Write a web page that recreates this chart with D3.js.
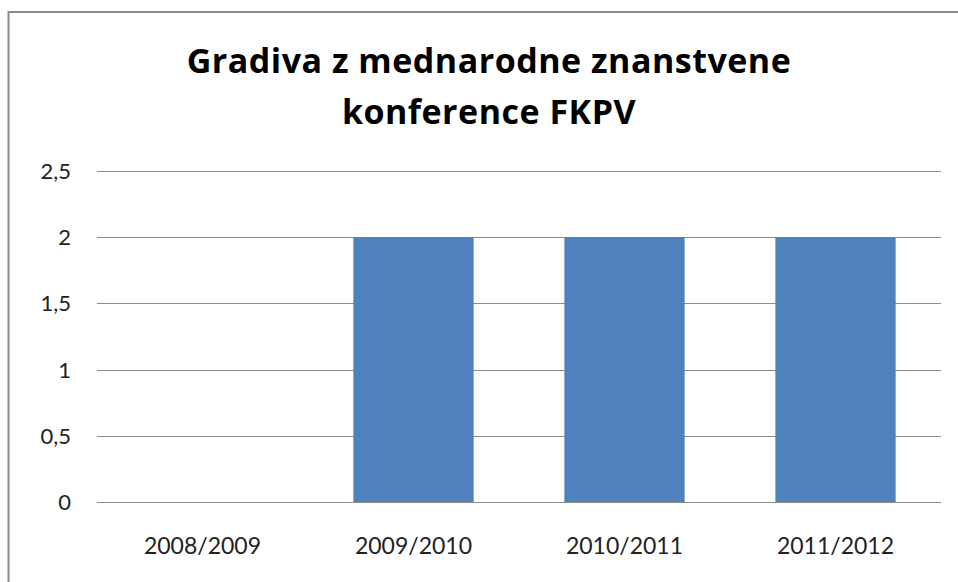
<!DOCTYPE html>
<html><head><meta charset="utf-8">
<script src="https://cdn.jsdelivr.net/npm/d3@7"></script>
<style>html,body{margin:0;padding:0;background:#fff;}</style>
</head><body>
<svg id="c" width="958" height="582"></svg>
<script>
const categories = ["2008/2009", "2009/2010", "2010/2011", "2011/2012"];
const values = [0, 2, 2, 2];
const yTicks = [0, 0.5, 1, 1.5, 2, 2.5];
const titleLines = ["Gradiva z mednarodne znanstvene", "konference FKPV"];

const svg = d3.select("#c");
const font = "Lato, 'Open Sans', sans-serif";
svg.append("rect").attr("x", 8.5).attr("y", 12).attr("width", 960).attr("height", 600)
  .attr("fill", "#fff").attr("stroke", "#8a8a8a").attr("stroke-width", 2);

const m = {left: 97, right: 941, top: 171, bottom: 502};
const x = d3.scaleBand().domain(categories).range([m.left, m.right]).paddingInner(0.43).paddingOuter(0.215);
const y = d3.scaleLinear().domain([0, 2.5]).range([m.bottom, m.top]);
const fmt = v => String(v).replace(".", ",");

svg.append("g").selectAll("line").data(yTicks).join("line")
  .attr("x1", m.left).attr("x2", m.right)
  .attr("y1", d => Math.round(y(d)) + 0.5).attr("y2", d => Math.round(y(d)) + 0.5)
  .attr("stroke", "#8c8c8c").attr("stroke-width", 1);

svg.append("g").selectAll("rect").data(values).join("rect")
  .attr("x", (d, i) => x(categories[i])).attr("width", x.bandwidth())
  .attr("y", d => y(d)).attr("height", d => y(0) - y(d))
  .attr("fill", "#4f81bd");

svg.append("g").selectAll("text").data(yTicks).join("text")
  .attr("x", 71).attr("y", d => y(d)).attr("dy", "0.36em")
  .attr("text-anchor", "end").attr("font-family", font).attr("font-size", 22).attr("fill", "#222")
  .text(fmt);

svg.append("g").selectAll("text").data(categories).join("text")
  .attr("x", d => x(d) + x.bandwidth() / 2).attr("y", 554)
  .attr("text-anchor", "middle").attr("font-family", font).attr("font-size", 23).attr("fill", "#222")
  .text(d => d);

svg.append("g").selectAll("text").data(titleLines).join("text")
  .attr("x", 489).attr("y", (d, i) => 73 + i * 51)
  .attr("text-anchor", "middle").attr("font-family", "'Open Sans', sans-serif").attr("font-weight", "bold")
  .attr("font-size", 34).attr("letter-spacing", 0.5).attr("fill", "#000")
  .text(d => d);
</script>
</body></html>
